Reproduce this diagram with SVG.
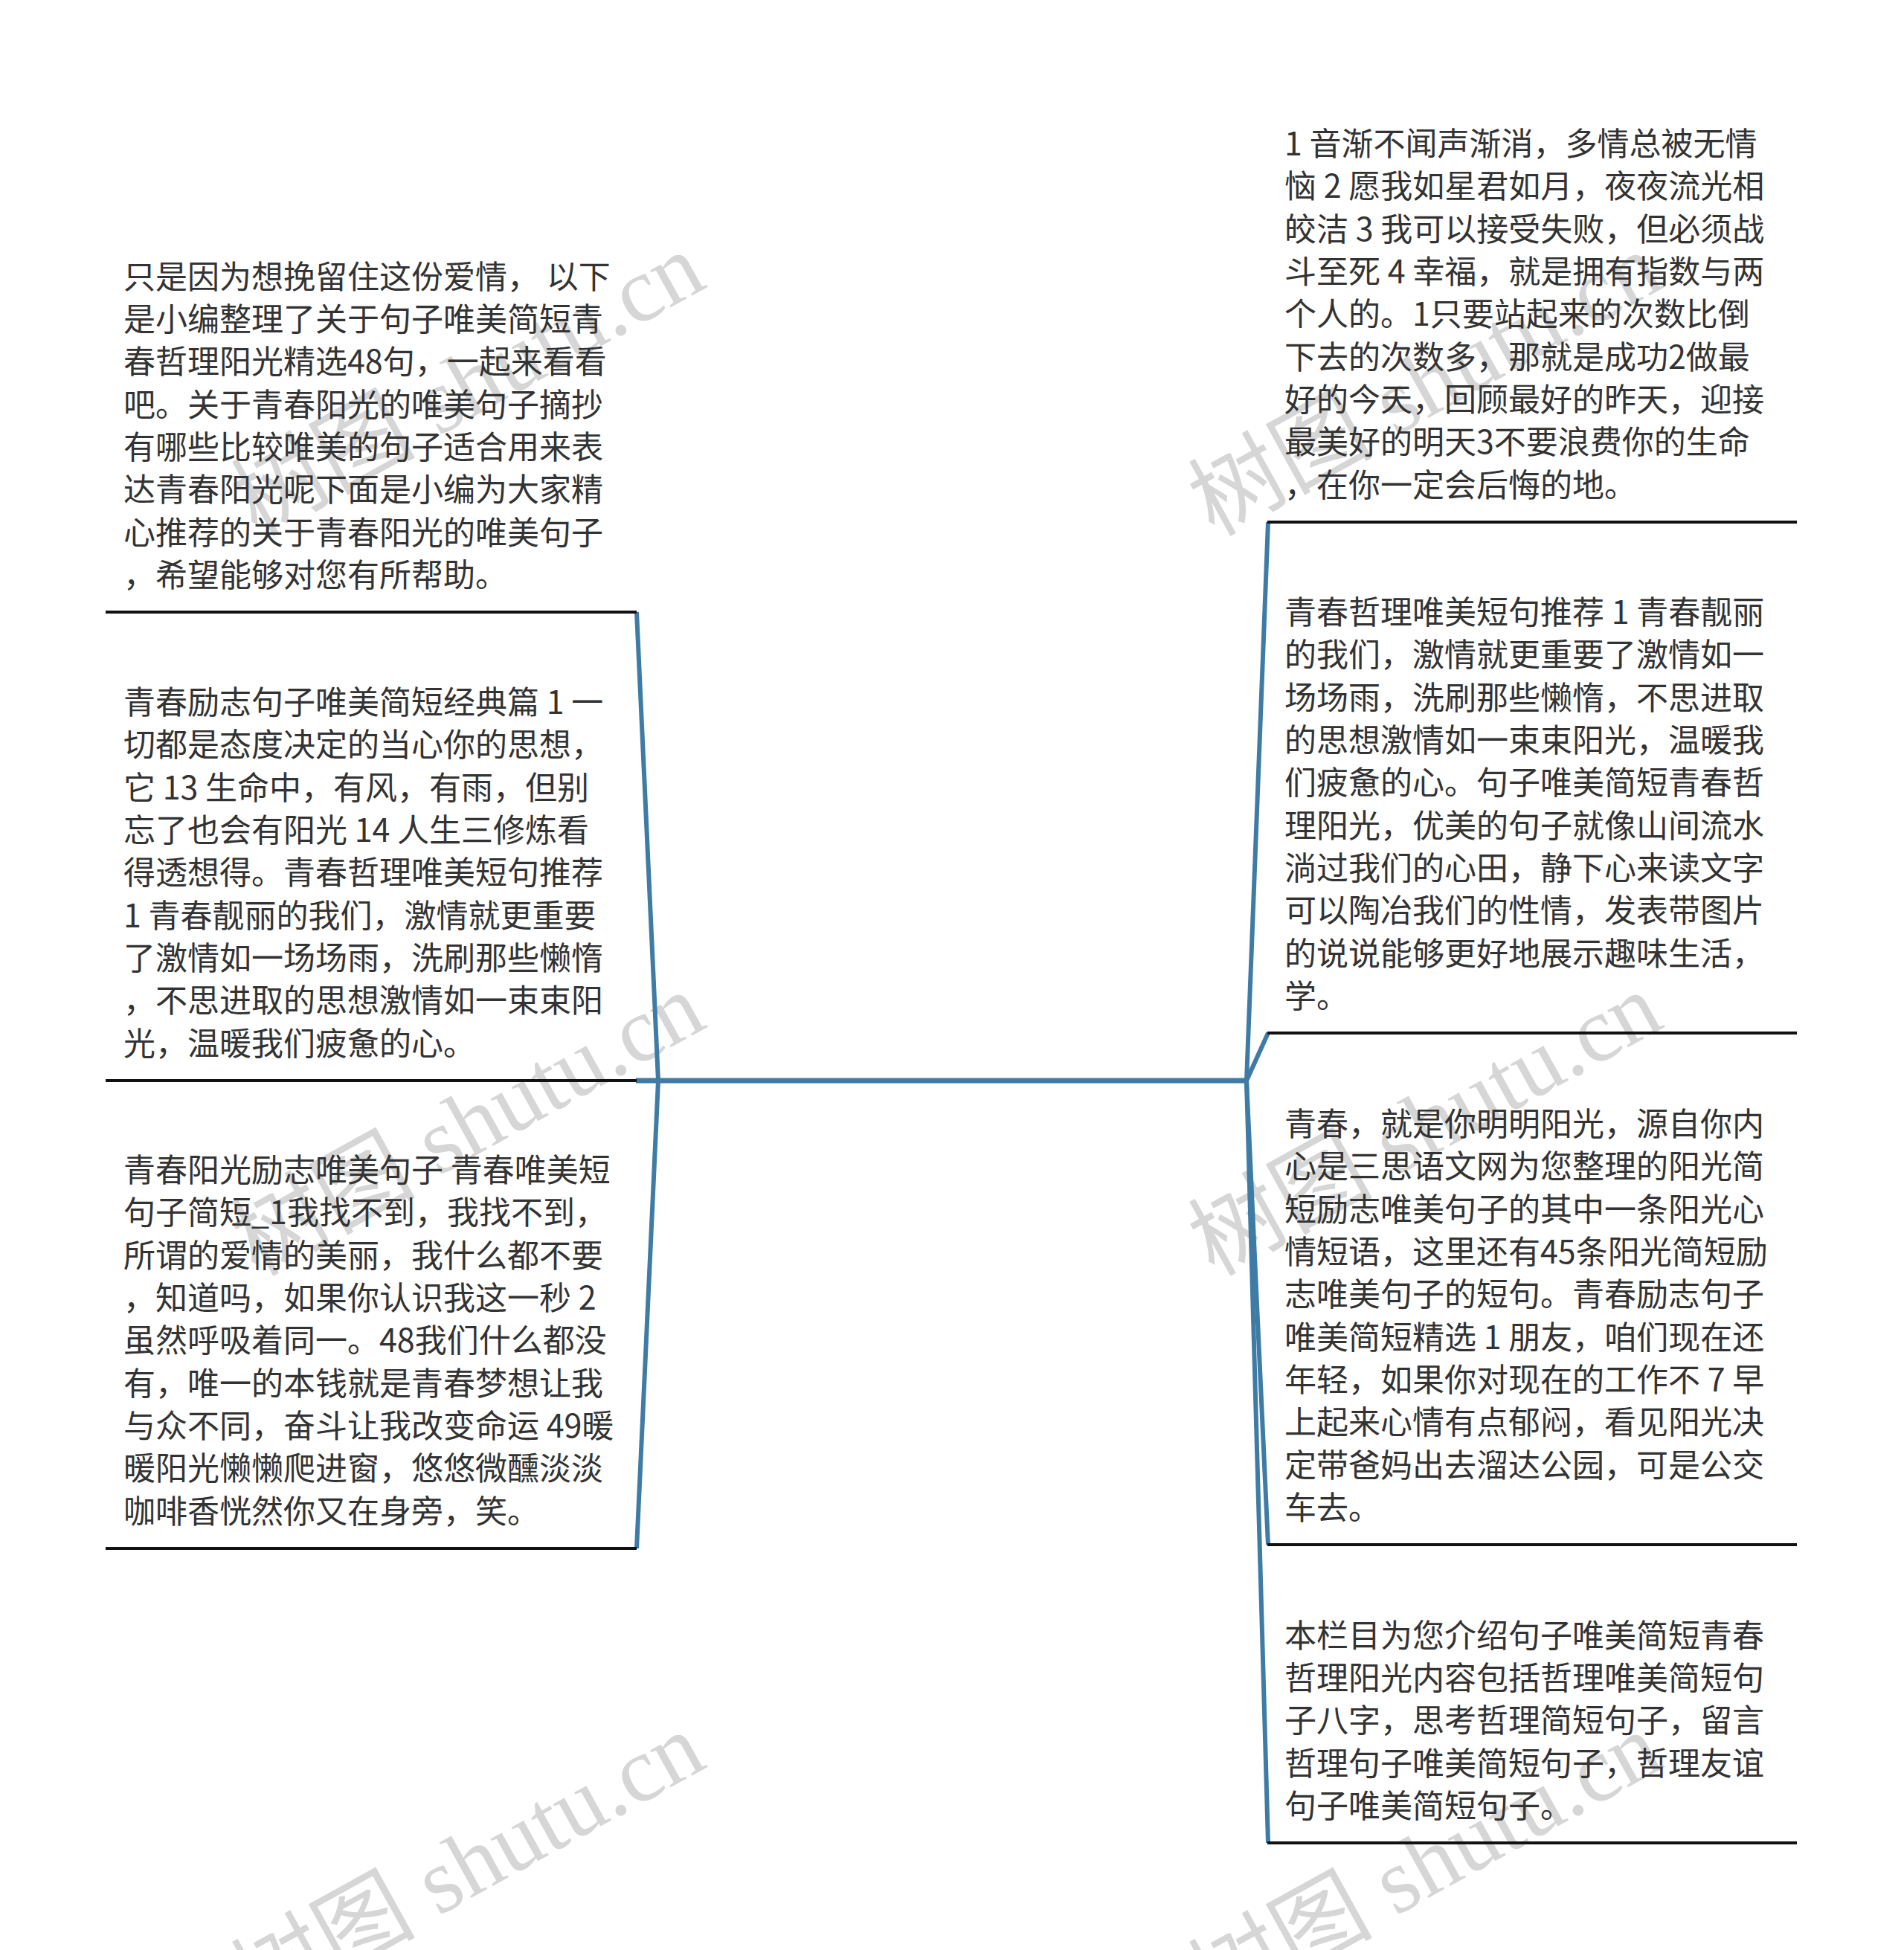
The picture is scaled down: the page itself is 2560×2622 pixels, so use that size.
<svg xmlns="http://www.w3.org/2000/svg" width="2560" height="2622" viewBox="0 0 2560 2622">
<style>
.t{font-family:"Noto Sans CJK SC","Noto Sans",sans-serif;font-size:43px;fill:#333333}
.ul{stroke:#111111;stroke-width:4;fill:none}
.br{stroke:#3e7ba5;stroke-width:6;fill:none;stroke-linecap:butt}
.wm{font-family:"Liberation Serif","Noto Sans CJK SC",serif;font-size:124px;fill:#d6d6d6}
</style>
<rect width="2560" height="2622" fill="#ffffff"/>
<g id="watermarks">
<text class="wm" transform="translate(345,722) rotate(-29)">树图 shutu.cn</text>
<text class="wm" transform="translate(345,1717) rotate(-29)">树图 shutu.cn</text>
<text class="wm" transform="translate(345,2712) rotate(-29)">树图 shutu.cn</text>
<text class="wm" transform="translate(1632,722) rotate(-29)">树图 shutu.cn</text>
<text class="wm" transform="translate(1632,1717) rotate(-29)">树图 shutu.cn</text>
<text class="wm" transform="translate(1632,2712) rotate(-29)">树图 shutu.cn</text>
</g>
<g id="connectors">
<line class="br" x1="855" y1="1453" x2="1677" y2="1453" style="stroke-width:7"/>
<line class="br" x1="885" y1="1453" x2="856" y2="823"/>
<line class="br" x1="885" y1="1453" x2="856" y2="2082"/>
<line class="br" x1="1676" y1="1453" x2="1705" y2="702"/>
<line class="br" x1="1676" y1="1453" x2="1705" y2="1389"/>
<line class="br" x1="1676" y1="1453" x2="1705" y2="2077"/>
<line class="br" x1="1676" y1="1453" x2="1705" y2="2478"/>
</g>
<g id="node-l1">
<line class="ul" x1="142" y1="823" x2="856" y2="823"/>
<text class="t" xml:space="preserve"><tspan x="166" y="387.5">只是因为想挽留住这份爱情， 以下</tspan><tspan x="166" dy="57.35">是小编整理了关于句子唯美简短青</tspan><tspan x="166" dy="57.35">春哲理阳光精选48句，一起来看看</tspan><tspan x="166" dy="57.35">吧。关于青春阳光的唯美句子摘抄</tspan><tspan x="166" dy="57.35">有哪些比较唯美的句子适合用来表</tspan><tspan x="166" dy="57.35">达青春阳光呢下面是小编为大家精</tspan><tspan x="166" dy="57.35">心推荐的关于青春阳光的唯美句子</tspan><tspan x="166" dy="57.35">，希望能够对您有所帮助。</tspan></text>
</g>
<g id="node-l2">
<line class="ul" x1="142" y1="1453" x2="856" y2="1453"/>
<text class="t"><tspan x="166" y="960">青春励志句子唯美简短经典篇 1 一</tspan><tspan x="166" dy="57.35">切都是态度决定的当心你的思想，</tspan><tspan x="166" dy="57.35">它 13 生命中，有风，有雨，但别</tspan><tspan x="166" dy="57.35">忘了也会有阳光 14 人生三修炼看</tspan><tspan x="166" dy="57.35">得透想得。青春哲理唯美短句推荐</tspan><tspan x="166" dy="57.35">1 青春靓丽的我们，激情就更重要</tspan><tspan x="166" dy="57.35">了激情如一场场雨，洗刷那些懒惰</tspan><tspan x="166" dy="57.35">，不思进取的思想激情如一束束阳</tspan><tspan x="166" dy="57.35">光，温暖我们疲惫的心。</tspan></text>
</g>
<g id="node-l3">
<line class="ul" x1="142" y1="2082" x2="856" y2="2082"/>
<text class="t"><tspan x="166" y="1589">青春阳光励志唯美句子 青春唯美短</tspan><tspan x="166" dy="57.35">句子简短_1我找不到，我找不到，</tspan><tspan x="166" dy="57.35">所谓的爱情的美丽，我什么都不要</tspan><tspan x="166" dy="57.35">，知道吗，如果你认识我这一秒 2</tspan><tspan x="166" dy="57.35">虽然呼吸着同一。48我们什么都没</tspan><tspan x="166" dy="57.35">有，唯一的本钱就是青春梦想让我</tspan><tspan x="166" dy="57.35">与众不同，奋斗让我改变命运 49暖</tspan><tspan x="166" dy="57.35">暖阳光懒懒爬进窗，悠悠微醺淡淡</tspan><tspan x="166" dy="57.35">咖啡香恍然你又在身旁，笑。</tspan></text>
</g>
<g id="node-r1">
<line class="ul" x1="1704" y1="702" x2="2416" y2="702"/>
<text class="t"><tspan x="1727" y="209">1 音渐不闻声渐消，多情总被无情</tspan><tspan x="1727" dy="57.35">恼 2 愿我如星君如月，夜夜流光相</tspan><tspan x="1727" dy="57.35">皎洁 3 我可以接受失败，但必须战</tspan><tspan x="1727" dy="57.35">斗至死 4 幸福，就是拥有指数与两</tspan><tspan x="1727" dy="57.35">个人的。1只要站起来的次数比倒</tspan><tspan x="1727" dy="57.35">下去的次数多，那就是成功2做最</tspan><tspan x="1727" dy="57.35">好的今天，回顾最好的昨天，迎接</tspan><tspan x="1727" dy="57.35">最美好的明天3不要浪费你的生命</tspan><tspan x="1727" dy="57.35">，在你一定会后悔的地。</tspan></text>
</g>
<g id="node-r2">
<line class="ul" x1="1704" y1="1389" x2="2416" y2="1389"/>
<text class="t"><tspan x="1727" y="839">青春哲理唯美短句推荐 1 青春靓丽</tspan><tspan x="1727" dy="57.35">的我们，激情就更重要了激情如一</tspan><tspan x="1727" dy="57.35">场场雨，洗刷那些懒惰，不思进取</tspan><tspan x="1727" dy="57.35">的思想激情如一束束阳光，温暖我</tspan><tspan x="1727" dy="57.35">们疲惫的心。句子唯美简短青春哲</tspan><tspan x="1727" dy="57.35">理阳光，优美的句子就像山间流水</tspan><tspan x="1727" dy="57.35">淌过我们的心田，静下心来读文字</tspan><tspan x="1727" dy="57.35">可以陶冶我们的性情，发表带图片</tspan><tspan x="1727" dy="57.35">的说说能够更好地展示趣味生活，</tspan><tspan x="1727" dy="57.35">学。</tspan></text>
</g>
<g id="node-r3">
<line class="ul" x1="1704" y1="2077" x2="2416" y2="2077"/>
<text class="t"><tspan x="1727" y="1527">青春，就是你明明阳光，源自你内</tspan><tspan x="1727" dy="57.35">心是三思语文网为您整理的阳光简</tspan><tspan x="1727" dy="57.35">短励志唯美句子的其中一条阳光心</tspan><tspan x="1727" dy="57.35">情短语，这里还有45条阳光简短励</tspan><tspan x="1727" dy="57.35">志唯美句子的短句。青春励志句子</tspan><tspan x="1727" dy="57.35">唯美简短精选 1 朋友，咱们现在还</tspan><tspan x="1727" dy="57.35">年轻，如果你对现在的工作不 7 早</tspan><tspan x="1727" dy="57.35">上起来心情有点郁闷，看见阳光决</tspan><tspan x="1727" dy="57.35">定带爸妈出去溜达公园，可是公交</tspan><tspan x="1727" dy="57.35">车去。</tspan></text>
</g>
<g id="node-r4">
<line class="ul" x1="1704" y1="2478" x2="2416" y2="2478"/>
<text class="t"><tspan x="1727" y="2214.6">本栏目为您介绍句子唯美简短青春</tspan><tspan x="1727" dy="57.35">哲理阳光内容包括哲理唯美简短句</tspan><tspan x="1727" dy="57.35">子八字，思考哲理简短句子，留言</tspan><tspan x="1727" dy="57.35">哲理句子唯美简短句子，哲理友谊</tspan><tspan x="1727" dy="57.35">句子唯美简短句子。</tspan></text>
</g>
</svg>
